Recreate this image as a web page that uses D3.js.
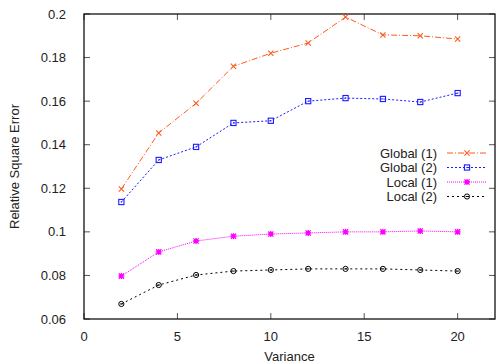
<!DOCTYPE html>
<html>
<head>
<meta charset="utf-8">
<script src="https://cdn.jsdelivr.net/npm/d3@7"></script>
<style>
  body { margin: 0; background: #fff; }
  text { font-family: "Liberation Sans", Arial, sans-serif; }
</style>
</head>
<body>
<svg id="chart" width="497" height="364"></svg>
<script>
var variance = [2, 4, 6, 8, 10, 12, 14, 16, 18, 20];
var global1 = [0.1197, 0.1454, 0.159, 0.176, 0.182, 0.1867, 0.1986, 0.1904, 0.19, 0.1885];
var global2 = [0.1137, 0.133, 0.139, 0.150, 0.151, 0.160, 0.1614, 0.161, 0.1596, 0.1637];
var local1 = [0.0797, 0.0908, 0.0958, 0.098, 0.099, 0.0995, 0.100, 0.100, 0.1004, 0.100];
var local2 = [0.0669, 0.0756, 0.0802, 0.082, 0.0825, 0.083, 0.083, 0.083, 0.0825, 0.082];
var xTicks = [0, 5, 10, 15, 20];
var yTicks = [0.06, 0.08, 0.1, 0.12, 0.14, 0.16, 0.18, 0.2];

var seriesList = [
  {name: 'Global (1)', values: global1, color: '#ff5a1e', dash: '6,2,1,2', marker: 'x'},
  {name: 'Global (2)', values: global2, color: '#1a1aff', dash: '2,2', marker: 'sq'},
  {name: 'Local (1)', values: local1, color: '#ff00ff', dash: '1,1', marker: 'star'},
  {name: 'Local (2)', values: local2, color: '#000000', dash: '2,3', marker: 'circ'}
];

var svg = d3.select('#chart');
var pl = 84, pr = 495, pt = 14, pb = 319;

var x = d3.scaleLinear().domain([0, 22]).range([pl, pr]);
var y = d3.scaleLinear().domain([0.06, 0.2]).range([pb, pt]);

// ticks (inside, mirrored)
var tk = svg.append('g');
yTicks.forEach(function(v) {
  tk.append('line').attr('x1', pl).attr('x2', pl + 6).attr('y1', y(v)).attr('y2', y(v))
    .style('stroke', '#555').style('stroke-width', 1);
  tk.append('line').attr('x1', pr - 6).attr('x2', pr).attr('y1', y(v)).attr('y2', y(v))
    .style('stroke', '#555').style('stroke-width', 1);
  tk.append('text').attr('x', pl - 18).attr('y', y(v) + 4.5)
    .attr('text-anchor', 'end').style('font-size', '13px').style('fill', '#222')
    .text(+v.toFixed(2));
});
xTicks.forEach(function(v) {
  tk.append('line').attr('x1', x(v)).attr('x2', x(v)).attr('y1', pb).attr('y2', pb - 6)
    .style('stroke', '#555').style('stroke-width', 1);
  tk.append('line').attr('x1', x(v)).attr('x2', x(v)).attr('y1', pt).attr('y2', pt + 6)
    .style('stroke', '#555').style('stroke-width', 1);
  tk.append('text').attr('x', x(v)).attr('y', pb + 22)
    .attr('text-anchor', 'middle').style('font-size', '13px').style('fill', '#222')
    .text(v);
});

svg.append('rect').attr('x', pl).attr('y', pt).attr('width', pr - pl).attr('height', pb - pt)
  .style('fill', 'none').style('stroke', '#111').style('stroke-width', 1.3);

svg.append('text').attr('x', (pl + pr) / 2).attr('y', 361).attr('text-anchor', 'middle')
  .style('font-size', '13px').style('fill', '#222').text('Variance');
svg.append('text').attr('transform', 'translate(19,' + ((pt + pb) / 2) + ') rotate(-90)')
  .attr('text-anchor', 'middle').style('font-size', '13px').style('fill', '#222').text('Relative Square Error');

function drawMarker(g, cx, cy, s) {
  var m = g.append('g').attr('transform', 'translate(' + cx + ',' + cy + ')');
  if (s.marker === 'x') {
    m.append('path').attr('d', 'M-2.6,-2.6L2.6,2.6M-2.6,2.6L2.6,-2.6').style('stroke', s.color).style('stroke-width', 1.1);
  } else if (s.marker === 'sq') {
    m.append('rect').attr('x', -2.6).attr('y', -2.6).attr('width', 5.2).attr('height', 5.2)
      .style('fill', 'none').style('stroke', s.color).style('stroke-width', 1.1);
    m.append('rect').attr('x', -0.6).attr('y', -0.6).attr('width', 1.2).attr('height', 1.2).style('fill', s.color);
  } else if (s.marker === 'star') {
    m.append('path').attr('d', 'M-2.6,-2.6L2.6,2.6M-2.6,2.6L2.6,-2.6M0,-3L0,3M-3,0L3,0').style('stroke', s.color).style('stroke-width', 1.3);
    m.append('rect').attr('x', -1.8).attr('y', -1.8).attr('width', 3.6).attr('height', 3.6).style('fill', s.color);
  } else {
    m.append('circle').attr('r', 2.6).style('fill', 'none').style('stroke', s.color).style('stroke-width', 1);
    m.append('line').attr('x1', -1.3).attr('x2', 1.3).attr('y1', 0).attr('y2', 0).style('stroke', s.color).style('stroke-width', 1);
  }
}

var line = d3.line().x(function(d) { return x(d[0]); }).y(function(d) { return y(d[1]); });

seriesList.forEach(function(s) {
  var pts = variance.map(function(v, i) { return [v, s.values[i]]; });
  svg.append('path').datum(pts).attr('d', line)
    .style('fill', 'none').style('stroke', s.color).style('stroke-width', 1)
    .style('stroke-dasharray', s.dash);
  var g = svg.append('g');
  pts.forEach(function(p) { drawMarker(g, x(p[0]), y(p[1]), s); });
});

// legend
var legY = 153;
seriesList.forEach(function(s, i) {
  var ly = legY + i * 14.5;
  svg.append('text').attr('x', 437).attr('y', ly + 4.5).attr('text-anchor', 'end')
    .style('font-size', '13px').style('fill', '#222').text(s.name);
  svg.append('line').attr('x1', 447).attr('x2', 487).attr('y1', ly).attr('y2', ly)
    .style('stroke', s.color).style('stroke-width', 1).style('stroke-dasharray', s.dash);
  drawMarker(svg, 467, ly, s);
});
</script>
</body>
</html>
